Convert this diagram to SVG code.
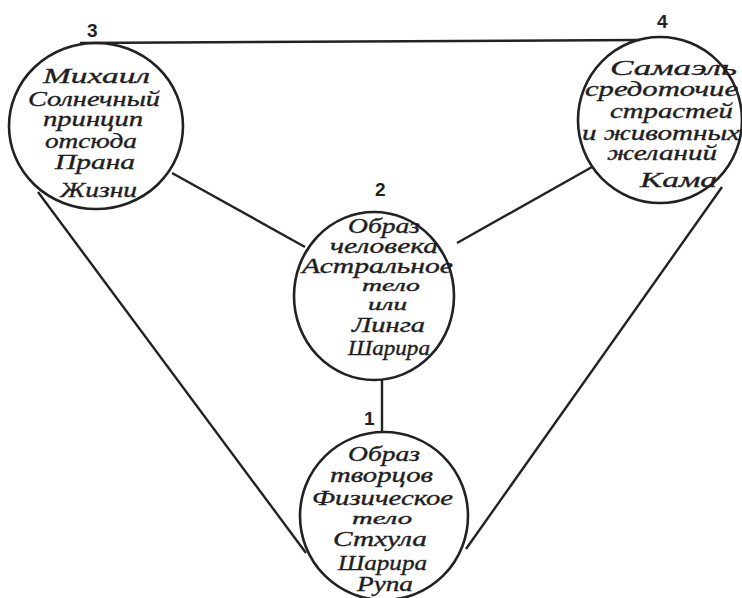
<svg xmlns="http://www.w3.org/2000/svg" width="742" height="598" viewBox="0 0 742 598">
<style>
.c{fill:none;stroke:#222;stroke-width:2.6}
.l{stroke:#222;stroke-width:2.4;fill:none}
.t{font-family:"Liberation Serif","DejaVu Serif",serif;font-style:italic;font-weight:normal;font-size:20px;fill:#1e1e1e;stroke:#1e1e1e;stroke-width:0.35}
.b{font-size:22px}
.s{font-size:17px}
.u{font-size:16px}
.n{font-family:"Liberation Sans","DejaVu Sans",sans-serif;font-weight:bold;font-size:19px;fill:#222}
</style>
<rect width="742" height="598" fill="#fff"/>
<g id="connectors">
<line class="l" x1="80" y1="43" x2="640" y2="40"/>
<line class="l" x1="172" y1="173" x2="305" y2="247"/>
<line class="l" x1="592" y1="167" x2="457" y2="243"/>
<line class="l" x1="382" y1="380" x2="382" y2="432"/>
<line class="l" x1="38" y1="192" x2="306" y2="553"/>
<line class="l" x1="722" y1="187" x2="466" y2="549"/>
</g>
<g id="node3">
<ellipse class="c" cx="96" cy="126" rx="87" ry="83"/>
<text class="n" x="87" y="37">3</text>
<text class="t b" x="43" y="83" textLength="107" lengthAdjust="spacingAndGlyphs">Михаил</text>
<text class="t" x="28" y="106" textLength="132" lengthAdjust="spacingAndGlyphs">Солнечный</text>
<text class="t" x="43" y="126" textLength="100" lengthAdjust="spacingAndGlyphs">принцип</text>
<text class="t" x="45" y="148" textLength="92" lengthAdjust="spacingAndGlyphs">отсюда</text>
<text class="t" x="55" y="169" textLength="80" lengthAdjust="spacingAndGlyphs">Прана</text>
<text class="t" x="60" y="197" textLength="77" lengthAdjust="spacingAndGlyphs">Жизни</text>
</g>
<g id="node4">
<ellipse class="c" cx="660" cy="120" rx="82" ry="83"/>
<text class="n" x="657" y="28">4</text>
<text class="t b" x="610" y="75" textLength="127" lengthAdjust="spacingAndGlyphs">Самаэль</text>
<text class="t" x="585" y="96" textLength="153" lengthAdjust="spacingAndGlyphs">средоточие</text>
<text class="t" x="610" y="118" textLength="123" lengthAdjust="spacingAndGlyphs">страстей</text>
<text class="t" x="582" y="140" textLength="158" lengthAdjust="spacingAndGlyphs">и животных</text>
<text class="t" x="607" y="160" textLength="110" lengthAdjust="spacingAndGlyphs">желаний</text>
<text class="t b" x="640" y="187" textLength="77" lengthAdjust="spacingAndGlyphs">Кама</text>
</g>
<g id="node2">
<ellipse class="c" cx="374" cy="296" rx="80" ry="84"/>
<text class="n" x="375" y="196">2</text>
<text class="t" x="348" y="233" textLength="72" lengthAdjust="spacingAndGlyphs">Образ</text>
<text class="t" x="330" y="253" textLength="108" lengthAdjust="spacingAndGlyphs">человека</text>
<text class="t" x="302" y="273" textLength="151" lengthAdjust="spacingAndGlyphs">Астральное</text>
<text class="t s" x="362" y="291" textLength="58" lengthAdjust="spacingAndGlyphs">тело</text>
<text class="t u" x="368" y="310" textLength="39" lengthAdjust="spacingAndGlyphs">или</text>
<text class="t" x="352" y="332" textLength="73" lengthAdjust="spacingAndGlyphs">Линга</text>
<text class="t" x="348" y="355" textLength="82" lengthAdjust="spacingAndGlyphs">Шарира</text>
</g>
<g id="node1">
<ellipse class="c" cx="384" cy="516" rx="84" ry="84"/>
<text class="n" x="364" y="425">1</text>
<text class="t" x="348" y="461" textLength="72" lengthAdjust="spacingAndGlyphs">Образ</text>
<text class="t" x="330" y="482" textLength="103" lengthAdjust="spacingAndGlyphs">творцов</text>
<text class="t" x="312" y="505" textLength="141" lengthAdjust="spacingAndGlyphs">Физическое</text>
<text class="t s" x="352" y="524" textLength="60" lengthAdjust="spacingAndGlyphs">тело</text>
<text class="t" x="333" y="546" textLength="94" lengthAdjust="spacingAndGlyphs">Стхула</text>
<text class="t" x="338" y="570" textLength="89" lengthAdjust="spacingAndGlyphs">Шарира</text>
<text class="t" x="357" y="591" textLength="56" lengthAdjust="spacingAndGlyphs">Рупа</text>
</g>
</svg>
